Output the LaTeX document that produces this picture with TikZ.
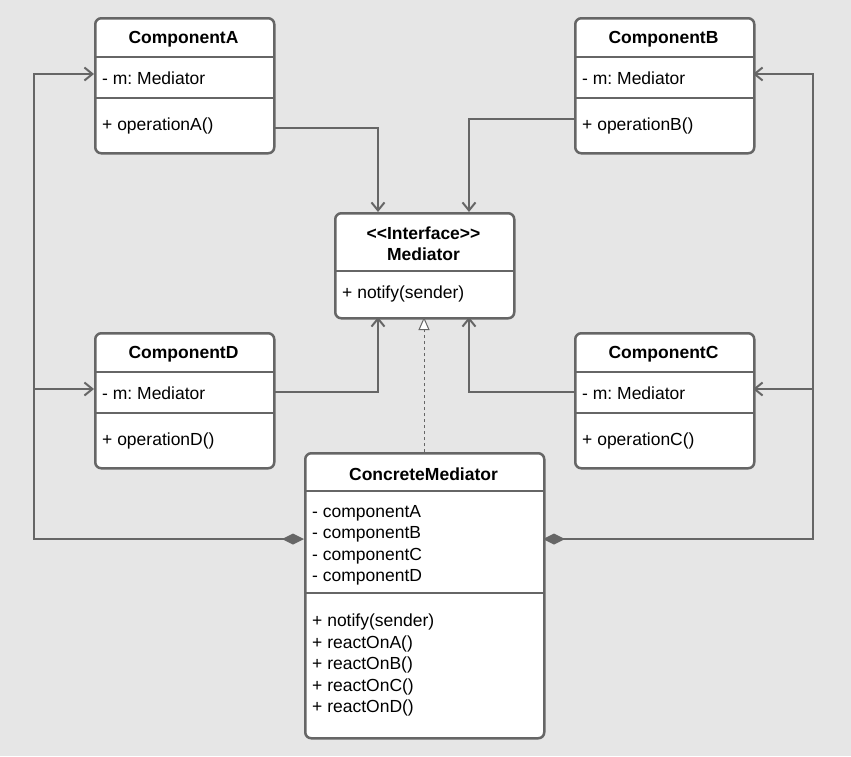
\documentclass[tikz,border=0pt]{standalone}
\usepackage{fontspec}
\setmainfont{Liberation Sans}
\usetikzlibrary{arrows.meta}
\definecolor{bg}{HTML}{E6E6E6}
\definecolor{ln}{HTML}{666666}
\frenchspacing
\begin{document}
\begin{tikzpicture}[x=1pt,y=-1pt,
  box/.style={draw=ln,line width=2.5pt,fill=white,rounded corners=6pt,anchor=north west,inner sep=0},
  div/.style={draw=ln,line width=2.5pt},
  hd/.style={font=\fontsize{17.5}{21}\selectfont\bfseries,align=center},
  tx/.style={font=\fontsize{17.5}{21.5}\selectfont,anchor=west,align=left,inner sep=0},
  con/.style={draw=ln,line width=2.5pt,-{Straight Barb[length=8pt,width=13pt,line width=2pt]}},
  agg/.style={draw=ln,line width=2.5pt,{Diamond[length=22pt,width=11pt,fill=ln]}-{Straight Barb[length=8pt,width=13pt,line width=2pt]}}]
\fill[bg] (0,0) rectangle (851,756);
\useasboundingbox (0,0) rectangle (851,756);
\newcommand{\umlclass}[9]{%
 \node[box,minimum width=#4pt,minimum height=#5pt] (#1) at (#2,#3) {};
 \draw[div] (#2,#6) -- ++(#4,0);
 \draw[div] (#2,#7) -- ++(#4,0);
 \node[hd] (#1h) at ({#2+#4/2},{(#3+#6)/2+2}) {#8};
 \node[tx] (#1b) at ({#2+8},{(#6+#7)/2+1}) {#9};
}
\umlclass{A}{94}{17}{179}{135}{57}{98}{ComponentA}{- m: Mediator}
\node[tx] (Ao) at (102,126) {+ operationA()};
\umlclass{B}{574}{17}{179}{135}{57}{98}{ComponentB}{- m: Mediator}
\node[tx] (Bo) at (582,126) {+ operationB()};
\umlclass{D}{94}{332}{179}{135}{372}{413}{ComponentD}{- m: Mediator}
\node[tx] (Do) at (102,441) {+ operationD()};
\umlclass{C}{574}{332}{179}{135}{372}{413}{ComponentC}{- m: Mediator}
\node[tx] (Co) at (582,441) {+ operationC()};
\node[box,minimum width=179pt,minimum height=105pt] (M) at (334,212) {};
\draw[div] (334,271) -- ++(179,0);
\node[hd] (Mh) at (423.5,244) {<{}<Interface>{}>\\Mediator};
\node[tx] (Mo) at (342,294) {+ notify(sender)};
\node[box,minimum width=239pt,minimum height=285pt] (CM) at (304,452) {};
\draw[div] (304,491) -- ++(239,0);
\draw[div] (304,593) -- ++(239,0);
\node[hd] (CMh) at (423.5,474) {ConcreteMediator};
\node[tx,anchor=north west] (CMa) at (312,505) {- componentA\\- componentB\\- componentC\\- componentD};
\node[tx,anchor=north west] (CMo) at (312,614) {+ notify(sender)\\+ reactOnA()\\+ reactOnB()\\+ reactOnC()\\+ reactOnD()};
\coordinate (a1) at (273,128); \coordinate (a2) at (378,212);
\coordinate (b1) at (574,119); \coordinate (b2) at (469,212);
\coordinate (d1) at (273,392); \coordinate (d2) at (378,317);
\coordinate (c1) at (574,392); \coordinate (c2) at (469,317);
\coordinate (mt) at (424,317); \coordinate (cmt) at (424,452);
\coordinate (lA) at (94,74); \coordinate (lD) at (94,389);
\coordinate (rB) at (753,74); \coordinate (rC) at (753,389);
\coordinate (cml) at (304,539); \coordinate (cmr) at (543,539);
\draw[con] (a1) -| (a2);
\draw[con] (b1) -| (b2);
\draw[con] (d1) -| (d2);
\draw[con] (c1) -| (c2);
\draw[ln,line width=1pt,dashed,-{Triangle[open,length=13pt,width=11pt,fill=white,line width=1pt]}] (cmt) -- (mt);
\draw[agg] (cml) -- (34,539) |- (lA);
\draw[con] (34,389) -- (lD);
\draw[agg] (cmr) -- (813,539) |- (rB);
\draw[con] (813,389) -- (rC);
\end{tikzpicture}
\end{document}
